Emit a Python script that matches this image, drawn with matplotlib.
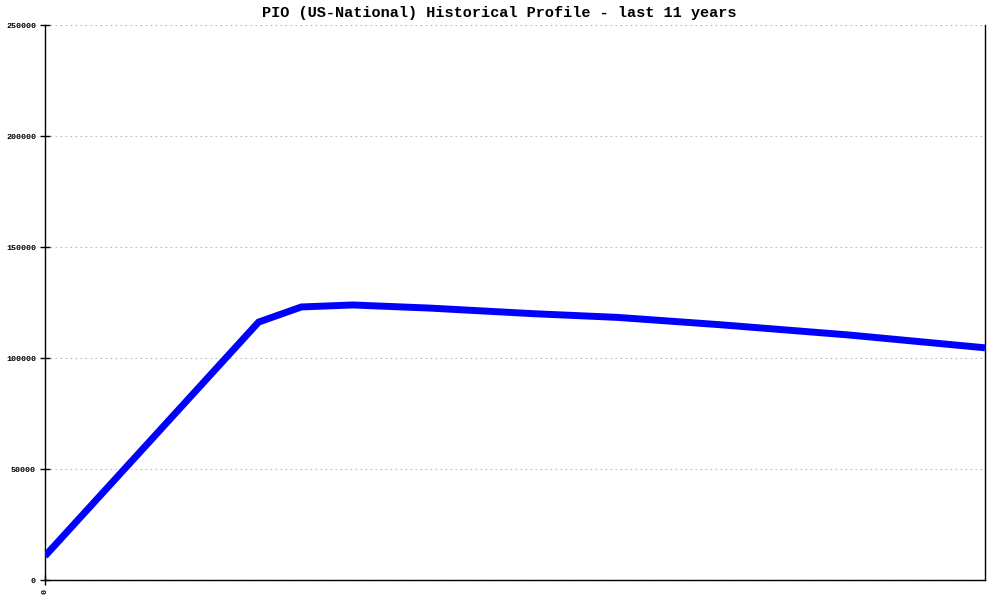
import matplotlib
matplotlib.use("Agg")
import matplotlib.pyplot as plt

# valores (eje x en anos, 11 anos)
years = [0, 2.5, 3.0, 3.6, 4.5, 5.7, 6.7, 7.9, 9.4, 11]
population = [10800, 116200, 123000, 123900, 122500, 120000, 118300, 115000, 110400, 104600]

y_ticks = [0, 50000, 100000, 150000, 200000, 250000]
title = "PIO (US-National) Historical Profile - last 11 years"

plt.rcParams['font.family'] = ['Liberation Mono', 'DejaVu Sans Mono']

fig = plt.figure(figsize=(10, 6), dpi=100)
ax = fig.add_axes([0.045, 0.0333, 0.94, 0.925])

ax.plot(years, population, color='#0000ff', linewidth=5, solid_capstyle='butt',
        solid_joinstyle='miter', zorder=3)

ax.set_xlim(0, 11)
ax.set_ylim(0, 250000)
ax.set_yticks(y_ticks)
ax.set_yticklabels([str(v) for v in y_ticks], fontsize=6, fontweight='bold')
ax.set_xticks([0])
ax.set_xticklabels(['0'], rotation=90, fontsize=6, fontweight='bold')

ax.grid(axis='y', color='#bbbbbb', linestyle=(0, (1.5, 3)), linewidth=0.8)
ax.set_axisbelow(True)
ax.tick_params(axis='both', direction='inout', length=7, width=1, pad=3)

ax.spines['top'].set_visible(False)
for s in ['left', 'right', 'bottom']:
    ax.spines[s].set_linewidth(1)

# titulo centrado en la figura
fig.text(0.499, 0.978, title, fontsize=11, fontweight='bold', ha='center', va='center')

fig.savefig('out.png', dpi=100)
